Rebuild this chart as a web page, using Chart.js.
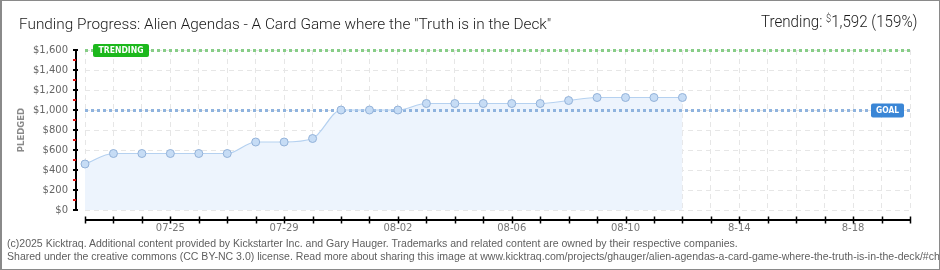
<!DOCTYPE html>
<html><head><meta charset="utf-8">
<script src="https://cdn.jsdelivr.net/npm/chart.js@4/dist/chart.umd.min.js"></script>
<style>
html,body{margin:0;padding:0;background:#fff;}
#wrap{position:relative;width:940px;height:270px;overflow:hidden;background:#fff;}
#c{position:absolute;left:0;top:0;}
.t{position:absolute;white-space:nowrap;transform-origin:0 0;line-height:1;}
#title{font-family:Roboto,"Liberation Sans Narrow",sans-serif;font-weight:300;font-size:15px;color:#1a1a1a;}
#trend{font-family:Roboto,"Liberation Sans Narrow",sans-serif;font-weight:300;font-size:16.5px;color:#1a1a1a;}
#trend sup{font-size:10px;vertical-align:0;position:relative;top:-5px;}
.foot{font-family:"Liberation Sans",sans-serif;font-size:10px;color:#5f5f5f;}
#frame{position:absolute;left:0;top:0;width:940px;height:270px;box-sizing:border-box;border:1px solid #8a8a8a;border-left-width:2px;pointer-events:none;}
</style></head>
<body><div id="wrap"><canvas id="c" width="940" height="270"></canvas>
<div id="title" class="t">Funding Progress: Alien Agendas - A Card Game where the "Truth is in the Deck"</div>
<div id="trend" class="t"></div>
<div id="f1" class="t foot">(c)2025 Kicktraq. Additional content provided by Kickstarter Inc. and Gary Hauger. Trademarks and related content are owned by their respective companies.</div>
<div id="f2" class="t foot">Shared under the creative commons (CC BY-NC 3.0) license. Read more about sharing this image at www.kicktraq.com/projects/ghauger/alien-agendas-a-card-game-where-the-truth-is-in-the-deck/#chart</div>
<div id="frame"></div></div>
<script>
const categories = ['07-22','07-23','07-24','07-25','07-26','07-27','07-28','07-29','07-30','07-31',
  '08-01','08-02','08-03','08-04','08-05','08-06','08-07','08-08','08-09','08-10',
  '08-11','08-12','08-13','08-14','08-15','08-16','08-17','08-18','08-19','08-20'];
const pledged = [460,565,565,565,565,565,680,680,715,1000,1000,1000,1065,1065,1065,1065,1065,1095,1125,1125,1125,1125];
const tickLabels = ['07-25','07-29','08-02','08-06','08-10','8-14','8-18'];
const goal = 1000;
const trending = 1592;

// header / footer text
document.getElementById('trend').innerHTML = 'Trending: <sup>$</sup>' + trending.toLocaleString('en-US') + ' (' + Math.floor(trending / goal * 100) + '%)';
function fit(id, x, top, w, right) {
  const el = document.getElementById(id);
  const s = w / el.scrollWidth;
  el.style.transform = 'scaleX(' + s + ')';
  el.style.left = (right ? x - w : x) + 'px';
  el.style.top = top + 'px';
  return s;
}
fit('title', 19, 17, 532, false);
fit('trend', 918, 14, 157, true);
const fs = fit('f1', 7, 239, 731, false);
const f2 = document.getElementById('f2');
f2.style.transform = 'scaleX(' + fs + ')'; f2.style.left = '7px'; f2.style.top = '252px';

function fitText(ctx, text, cx, cy, w) {
  const m = ctx.measureText(text).width;
  ctx.save();
  ctx.translate(cx, cy);
  ctx.scale(w / m, 1);
  ctx.textAlign = 'center'; ctx.textBaseline = 'middle';
  ctx.fillText(text, 0, 0.5);
  ctx.restore();
}
function roundBox(ctx, x, y, w, h, r) {
  ctx.beginPath();
  ctx.moveTo(x + r, y); ctx.lineTo(x + w - r, y); ctx.quadraticCurveTo(x + w, y, x + w, y + r);
  ctx.lineTo(x + w, y + h - r); ctx.quadraticCurveTo(x + w, y + h, x + w - r, y + h);
  ctx.lineTo(x + r, y + h); ctx.quadraticCurveTo(x, y + h, x, y + h - r);
  ctx.lineTo(x, y + r); ctx.quadraticCurveTo(x, y, x + r, y);
  ctx.closePath();
}

const overlay = {
  id: 'overlay',
  beforeDatasetDraw(chart) {
    const {ctx, chartArea: a, scales: {y}} = chart;
    ctx.save();
    ctx.lineWidth = 3;
    ctx.setLineDash([3, 3]);
    [[goal, '#8fb3de'], [trending, '#87cd87']].forEach(([v, c]) => {
      const py = Math.floor(y.getPixelForValue(v)) + 0.5;
      ctx.strokeStyle = c;
      ctx.beginPath(); ctx.moveTo(a.left, py); ctx.lineTo(a.right, py); ctx.stroke();
    });
    ctx.restore();
  },
  afterDatasetsDraw(chart) {
    const {ctx, chartArea: a, scales: {y}} = chart;
    ctx.save();
    ctx.font = 'bold 9px "DejaVu Sans"';
    const ty = Math.floor(y.getPixelForValue(trending)) + 0.5;
    ctx.fillStyle = '#1cb81c';
    roundBox(ctx, a.left + 8, ty - 6.5, 56, 13, 2); ctx.fill();
    ctx.fillStyle = '#fff';
    fitText(ctx, 'TRENDING', a.left + 36, ty, 45);
    const gy = Math.floor(y.getPixelForValue(goal)) + 0.5;
    ctx.fillStyle = '#3a86d6';
    roundBox(ctx, a.right - 39, gy - 7, 33, 14, 2); ctx.fill();
    ctx.fillStyle = '#fff';
    fitText(ctx, 'GOAL', a.right - 22.5, gy, 23);
    ctx.restore();
  },
  afterDraw(chart) {
    const {ctx, chartArea: a, scales: {x, y}} = chart;
    ctx.save();
    ctx.strokeStyle = '#000';
    // y axis
    const ax = a.left - 9;
    const yTop = y.getPixelForValue(y.max), yBot = y.getPixelForValue(y.min);
    ctx.lineWidth = 2;
    ctx.beginPath(); ctx.moveTo(ax, yTop); ctx.lineTo(ax, yBot + 1); ctx.stroke();
    for (let v = y.min; v <= y.max; v += 100) {
      const py = Math.round(y.getPixelForValue(v));
      if (v % 200 === 0) {
        ctx.strokeStyle = '#000'; ctx.lineWidth = 2;
        ctx.beginPath(); ctx.moveTo(ax - 3, py); ctx.lineTo(ax + 2, py); ctx.stroke();
      } else {
        ctx.strokeStyle = '#e01010'; ctx.lineWidth = 2;
        ctx.beginPath(); ctx.moveTo(ax - 3, py); ctx.lineTo(ax, py); ctx.stroke();
      }
    }
    // x axis
    const axY = a.bottom + 10;
    ctx.strokeStyle = '#000'; ctx.lineWidth = 2;
    ctx.beginPath(); ctx.moveTo(a.left, axY); ctx.lineTo(a.right, axY); ctx.stroke();
    ctx.lineWidth = 1.5;
    categories.forEach((c, i) => {
      const px = Math.round(x.getPixelForValue(i)) + 0.5;
      ctx.beginPath(); ctx.moveTo(px, axY - 3.5); ctx.lineTo(px, axY + 3.5); ctx.stroke();
    });
    ctx.restore();
  }
};

new Chart(document.getElementById('c'), {
  type: 'line',
  data: {
    labels: categories,
    datasets: [{
      label: 'Pledged',
      data: pledged,
      borderColor: '#b5d1f0',
      borderWidth: 1.2,
      backgroundColor: '#edf4fd',
      fill: 'origin',
      cubicInterpolationMode: 'monotone',
      pointRadius: 4,
      pointBackgroundColor: '#c6dcf5',
      pointBorderColor: '#93b2d9',
      pointBorderWidth: 1,
      clip: false
    }]
  },
  options: {
    responsive: false,
    animation: false,
    devicePixelRatio: 1,
    layout: {padding: {left: 0, right: 30, top: 50, bottom: 0}},
    plugins: {legend: {display: false}, title: {display: false}, tooltip: {enabled: false}},
    scales: {
      x: {
        type: 'category',
        offset: false,
        afterFit: s => { s.height = 60; },
        grid: {color: '#e6e6e6', lineWidth: 1, drawTicks: false},
        border: {display: false, dash: [5, 4]},
        ticks: {
          autoSkip: false, maxRotation: 0, padding: 12,
          color: '#777', font: {family: '"DejaVu Sans"', size: 10},
          callback: (v, i) => {
            const k = tickLabels.findIndex(t => t.padStart(5, '0') === categories[i]);
            return k >= 0 ? tickLabels[k] : '';
          }
        }
      },
      y: {
        min: 0, max: 1600,
        afterFit: s => { s.width = 85; },
        grid: {color: '#e6e6e6', lineWidth: 1, drawTicks: false},
        border: {display: false, dash: [5, 4]},
        ticks: {
          stepSize: 200, padding: 17,
          color: '#666', font: {family: '"DejaVu Sans"', size: 10},
          callback: v => '$' + v.toLocaleString('en-US')
        },
        title: {
          display: true, text: 'PLEDGED', color: '#8a8a8a',
          font: {family: '"DejaVu Sans"', size: 8.5, weight: 'bold'},
          padding: {top: 17, bottom: 0}
        }
      }
    }
  },
  plugins: [overlay]
});
</script>
</body></html>
